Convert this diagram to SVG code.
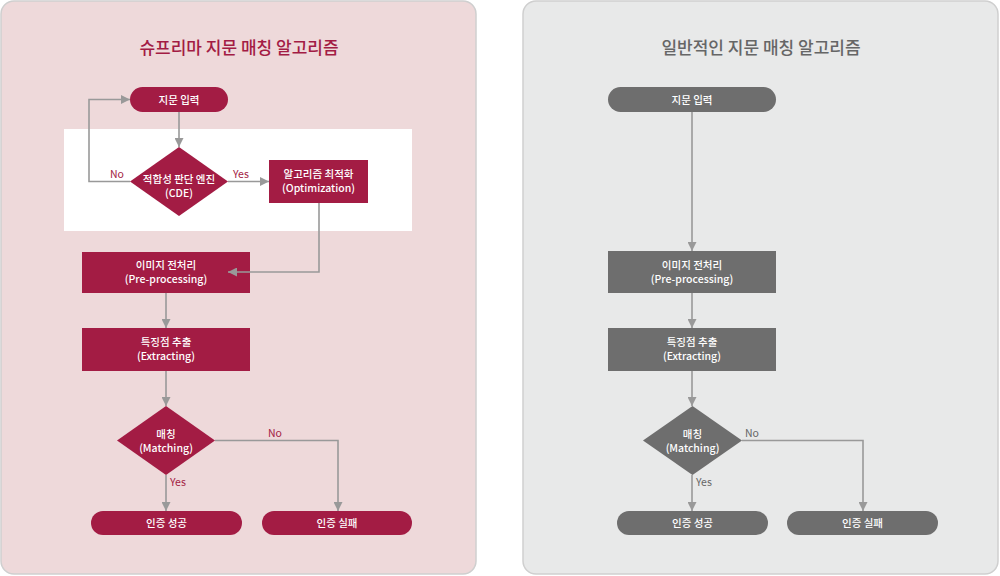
<svg xmlns="http://www.w3.org/2000/svg" width="1000" height="576" viewBox="0 0 1000 576">
<defs>
<marker id="ah" viewBox="0 0 10 10" refX="10" refY="5" markerWidth="9" markerHeight="9" markerUnits="userSpaceOnUse" orient="auto">
<path d="M0,0 L10,5 L0,10 z" fill="#999999"/>
</marker>
<style>
text{font-family:"Noto Sans CJK KR","Noto Sans",sans-serif;text-anchor:middle}
.t{font-size:10.5px;fill:#ffffff;font-weight:500}
.lab{font-size:10.5px;text-anchor:start}
.lr{fill:#a31c44}
.lg{fill:#666666}
.title{font-size:17px;font-weight:500}
.red{fill:#a31c44}
.gry{fill:#6e6e6e}
.c{fill:none;stroke:#999999;stroke-width:1.6;marker-end:url(#ah)}
</style>
</defs>
<g id="panels">
<rect x="1" y="1" width="475" height="573" rx="13" fill="#eed9da" stroke="#cfcfcf" stroke-width="1.5"/>
<rect x="523" y="1" width="475" height="573" rx="13" fill="#e8e9e9" stroke="#cfcfcf" stroke-width="1.5"/>
<rect x="64" y="129" width="348" height="102" fill="#ffffff"/>
<text x="239" y="54" class="title" fill="#a31c44">슈프리마 지문 매칭 알고리즘</text>
<text x="761" y="54" class="title" fill="#666666">일반적인 지문 매칭 알고리즘</text>
</g>
<g id="s-start"><rect x="130" y="87" width="98" height="25" rx="12.5" class="red"/><text x="179" y="103.5" class="t">지문 입력</text></g>
<g id="s-cde"><polygon points="179,147 228,181.5 179,216 130,181.5" class="red"/><text x="179" y="183" class="t">적합성 판단 엔진</text><text x="179" y="197" class="t">(CDE)</text></g>
<g id="s-opt"><rect x="269" y="160" width="99" height="43" class="red"/><text x="318.5" y="178" class="t">알고리즘 최적화</text><text x="318.5" y="192" class="t">(Optimization)</text></g>
<g id="s-pre"><rect x="82" y="252" width="168" height="41" class="red"/><text x="166" y="269" class="t">이미지 전처리</text><text x="166" y="283" class="t">(Pre-processing)</text></g>
<g id="s-ext"><rect x="82" y="328" width="168" height="43" class="red"/><text x="166" y="346" class="t">특징점 추출</text><text x="166" y="360" class="t">(Extracting)</text></g>
<g id="s-match"><polygon points="166,406 215,440.5 166,475 117,440.5" class="red"/><text x="166" y="438" class="t">매칭</text><text x="166" y="452" class="t">(Matching)</text></g>
<g id="s-ok"><rect x="91" y="511" width="151" height="24" rx="12" class="red"/><text x="166.5" y="527" class="t">인증 성공</text></g>
<g id="s-fail"><rect x="262" y="511" width="150" height="24" rx="12" class="red"/><text x="337" y="527" class="t">인증 실패</text></g>
<g id="g-start"><rect x="608" y="87" width="168" height="25" rx="12.5" class="gry"/><text x="692" y="103.5" class="t">지문 입력</text></g>
<g id="g-pre"><rect x="608" y="251" width="168" height="42" class="gry"/><text x="692" y="269" class="t">이미지 전처리</text><text x="692" y="283" class="t">(Pre-processing)</text></g>
<g id="g-ext"><rect x="608" y="328" width="168" height="43" class="gry"/><text x="692" y="346" class="t">특징점 추출</text><text x="692" y="360" class="t">(Extracting)</text></g>
<g id="g-match"><polygon points="692.5,406 742,440.5 692.5,475 643,440.5" class="gry"/><text x="692.5" y="438" class="t">매칭</text><text x="692.5" y="452" class="t">(Matching)</text></g>
<g id="g-ok"><rect x="617" y="511" width="151" height="24" rx="12" class="gry"/><text x="692.5" y="527" class="t">인증 성공</text></g>
<g id="g-fail"><rect x="787" y="511" width="151" height="24" rx="12" class="gry"/><text x="862.5" y="527" class="t">인증 실패</text></g>
<g id="connectors">
<line x1="179" y1="112" x2="179" y2="147" class="c"/>
<polyline points="130,181.5 89,181.5 89,99.5 130,99.5" class="c"/>
<line x1="228" y1="181.5" x2="269" y2="181.5" class="c"/>
<polyline points="319,203 319,272 228,272" class="c"/>
<line x1="166" y1="293" x2="166" y2="328" class="c"/>
<line x1="166" y1="371" x2="166" y2="406" class="c"/>
<line x1="166" y1="475" x2="166" y2="511" class="c"/>
<polyline points="215,440.5 338,440.5 338,511" class="c"/>
<line x1="692" y1="112" x2="692" y2="251" class="c"/>
<line x1="692" y1="293" x2="692" y2="328" class="c"/>
<line x1="692" y1="371" x2="692" y2="406" class="c"/>
<line x1="692" y1="475" x2="692" y2="511" class="c"/>
<polyline points="742,440.5 863,440.5 863,511" class="c"/>
<text x="110" y="178" class="lab lr">No</text>
<text x="233" y="178" class="lab lr">Yes</text>
<text x="268" y="437" class="lab lr">No</text>
<text x="170" y="486" class="lab lr">Yes</text>
<text x="745" y="437" class="lab lg">No</text>
<text x="696" y="486" class="lab lg">Yes</text>
</g>
</svg>
